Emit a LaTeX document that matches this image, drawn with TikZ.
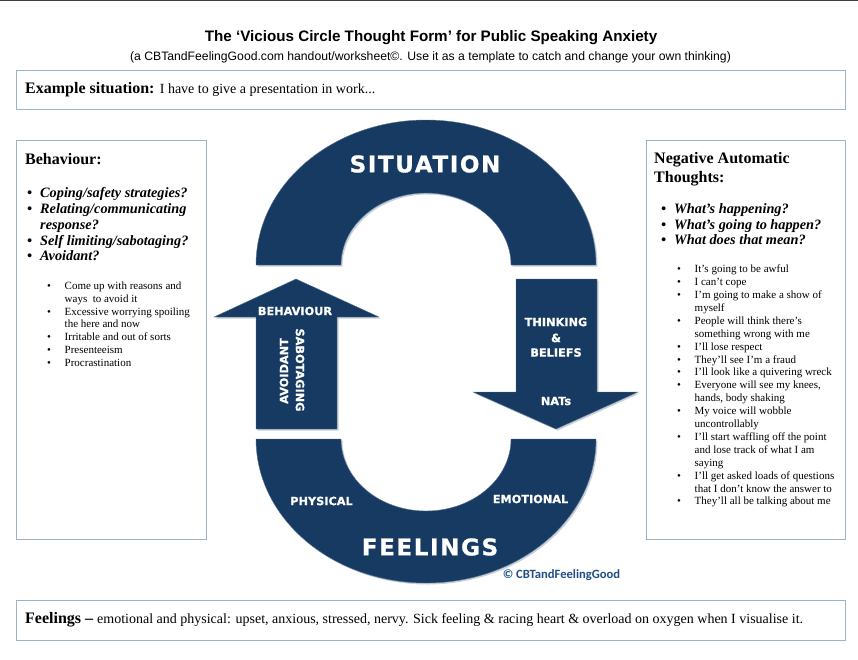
\documentclass[tikz,border=0pt]{standalone}
\usepackage{fontspec}
\setmainfont{Liberation Serif}
\newfontfamily\headfont{Liberation Sans}
\newfontfamily\blockfont[BoldFeatures={FakeBold=1}]{DejaVu Sans}
\newfontfamily\bigblockfont[BoldFeatures={FakeBold=1,LetterSpace=7}]{DejaVu Sans}
\newfontfamily\markfont{Carlito}
\usetikzlibrary{shadows}
\definecolor{navy}{HTML}{163A61}
\definecolor{panelblue}{HTML}{9DB2CB}
\definecolor{markblue}{HTML}{1F4E86}
\newcommand{\smalllist}[1]{\fontsize{11}{12.9}\selectfont\begin{tabular}{@{}p{17.5pt}@{}l@{}}#1\end{tabular}}
\newcommand{\asklist}[1]{\fontsize{14.3}{15.8}\selectfont\bfseries\itshape\begin{tabular}{@{}p{13pt}@{}l@{}}#1\end{tabular}}
\newcommand{\dotitem}{\textbullet}
\begin{document}
\begin{tikzpicture}[
    x=1pt, y=-1pt,
    panel/.style={rectangle, draw=panelblue, line width=0.9pt, fill=white, inner sep=0pt},
    heading/.style={anchor=west, inner sep=0pt, align=left, font=\fontsize{16}{19}\selectfont\bfseries},
    listtext/.style={anchor=north west, inner sep=0pt, align=left},
    block/.style={fill=navy, draw=navy!70!white, line width=0.4pt, drop shadow={shadow xshift=1.5pt, shadow yshift=-1.5pt, fill=navy!60!white, opacity=0.4}},
    biglabel/.style={text=white, inner sep=0pt, font=\bigblockfont\fontsize{23}{25}\selectfont\bfseries},
    smalllabel/.style={text=white, inner sep=0pt, font=\blockfont\fontsize{11.3}{13}\selectfont\bfseries}
]
\useasboundingbox (0,0) rectangle (858,660);
\fill[black!75] (0,0) rectangle (858,1);

% Title
\node[inner sep=0pt, font=\headfont\fontsize{15.2}{18}\selectfont\bfseries] (title) at (431,38) {The ‘Vicious Circle Thought Form’ for Public Speaking Anxiety};
\node[inner sep=0pt, font=\headfont\fontsize{12.2}{14}\selectfont] (subtitle) at (430.5,57) {(a CBTandFeelingGood.com handout/worksheet©. Use it as a template to catch and change your own thinking)};

% Panels
\node[panel, minimum width=829pt, minimum height=39pt] (examplebox) at (430.5,89.5) {};
\node[panel, minimum width=190pt, minimum height=399pt] (behaviourbox) at (111,339.5) {};
\node[panel, minimum width=199pt, minimum height=399pt] (thoughtsbox) at (745.5,339.5) {};
\node[panel, minimum width=829pt, minimum height=40pt] (feelingsbox) at (430.5,620) {};

% Example situation
\node[heading] (exampletext) at (25,90) {Example situation: \fontsize{14}{16}\selectfont\mdseries I have to give a presentation in work...};

% Left panel
\node[heading] (behaviourhead) at (25,159) {Behaviour:};
\node[listtext] (behaviourask) at (27,186.5) {\asklist{
\dotitem & Coping/safety strategies?\\
\dotitem & Relating/communicating\\
 & response?\\
\dotitem & Self limiting/sabotaging?\\
\dotitem & Avoidant?}};
\node[listtext] (behaviourlist) at (47,280) {\smalllist{
\dotitem & Come up with reasons and\\
 & ways\ \ to avoid it\\
\dotitem & Excessive worrying spoiling\\
 & the here and now\\
\dotitem & Irritable and out of sorts\\
\dotitem & Presenteeism\\
\dotitem & Procrastination}};

% Right panel
\node[heading] (thoughtshead) at (654,169.5) {Negative Automatic\\Thoughts:};
\node[listtext] (thoughtsask) at (661,202) {\asklist{
\dotitem & What's happening?\\
\dotitem & What's going to happen?\\
\dotitem & What does that mean?}};
\node[listtext] (thoughtslist) at (677,263.5) {\smalllist{
\dotitem & It's going to be awful\\
\dotitem & I can't cope\\
\dotitem & I'm going to make a show of\\
 & myself\\
\dotitem & People will think there's\\
 & something wrong with me\\
\dotitem & I'll lose respect\\
\dotitem & They'll see I'm a fraud\\
\dotitem & I'll look like a quivering wreck\\
\dotitem & Everyone will see my knees,\\
 & hands, body shaking\\
\dotitem & My voice will wobble\\
 & uncontrollably\\
\dotitem & I'll start waffling off the point\\
 & and lose track of what I am\\
 & saying\\
\dotitem & I'll get asked loads of questions\\
 & that I don't know the answer to\\
\dotitem & They'll all be talking about me}};

% Bottom line
\node[heading] (feelingstext) at (25,620) {Feelings – \fontsize{14}{16}\selectfont\mdseries emotional and physical: upset, anxious, stressed, nervy. Sick feeling \& racing heart \& overload on oxygen when I visualise it.};

% Arches
\draw[block] (256,265) arc[start angle=180, end angle=0, x radius=170pt, y radius=145pt] -- (511,265) arc[start angle=0, end angle=180, x radius=85pt, y radius=72pt] -- cycle;
\draw[block] (256,439) arc[start angle=180, end angle=360, x radius=170pt, y radius=144pt] -- (511,439) arc[start angle=0, end angle=-180, x radius=85pt, y radius=72pt] -- cycle;

% Arrows
\draw[block] (296,279) -- (379,317) -- (337,317) -- (337,429) -- (256,429) -- (256,317) -- (214,317) -- cycle;
\draw[block] (516,279) -- (597,279) -- (597,392) -- (638,392) -- (556,429) -- (473,392) -- (516,392) -- cycle;

% Labels
\node[biglabel] (situation) at (425,164) {SITUATION};
\node[biglabel] (feelings) at (430,547) {FEELINGS};
\node[smalllabel] (behaviour) at (295,311) {BEHAVIOUR};
\node[smalllabel, rotate=90] (avoidant) at (284,371) {AVOIDANT};
\node[smalllabel, rotate=-90] (sabotaging) at (300,370) {SABOTAGING};
\node[smalllabel] (thinking) at (556,322) {THINKING};
\node[smalllabel] (amp) at (556,338) {\&};
\node[smalllabel] (beliefs) at (556,352.5) {BELIEFS};
\node[smalllabel] (nats) at (556,401) {NATs};
\node[smalllabel] (physical) at (321.5,501) {PHYSICAL};
\node[smalllabel] (emotional) at (530.5,499) {EMOTIONAL};
\node[inner sep=0pt, text=markblue, font=\markfont\fontsize{12.6}{15}\selectfont\bfseries] (credit) at (561.5,575) {© CBTandFeelingGood};

\end{tikzpicture}
\end{document}
